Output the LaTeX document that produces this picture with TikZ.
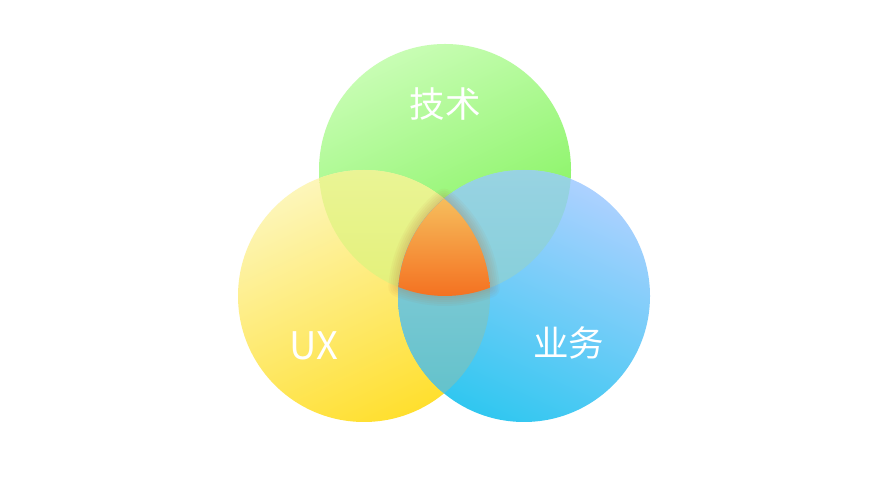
\documentclass[tikz,border=0pt]{standalone}
\usepackage{fontspec}
\setmainfont{Noto Sans CJK SC}
\definecolor{gA}{HTML}{C8FDB4}
\definecolor{gB}{HTML}{7DF256}
\definecolor{yA}{HTML}{FDF6BA}
\definecolor{yB}{HTML}{FFDF2E}
\definecolor{bA}{HTML}{ADD1FF}
\definecolor{bB}{HTML}{30C7F0}
\definecolor{gyA}{HTML}{EAF495}
\definecolor{gyB}{HTML}{DCEE5C}
\definecolor{gbA}{HTML}{98D3E2}
\definecolor{gbB}{HTML}{74CBD2}
\definecolor{ybA}{HTML}{92CEDD}
\definecolor{ybB}{HTML}{5EC1C9}
\definecolor{oA}{HTML}{F6BD5C}
\definecolor{oB}{HTML}{F46F1F}
\definecolor{halo}{HTML}{B86A38}
\tikzset{
  lab/.style={text=white, font=\fontsize{35.5}{40}\selectfont, inner sep=0pt},
  lablatin/.style={text=white, font=\fontsize{38}{44}\selectfont, inner sep=0pt},
  halostroke/.style={draw=halo, draw opacity=0.055, line join=round},
}
\begin{document}
\begin{tikzpicture}[x=1pt,y=1pt]
\useasboundingbox (0,0) rectangle (888,500);
\fill[white] (0,0) rectangle (888,500);
\coordinate (G) at (445,330);
\coordinate (Y) at (364,204);
\coordinate (B) at (524,204);
\coordinate (T) at (444,301.3);
% base circles
\shade[top color=gA, bottom color=gB, shading angle=25] (G) circle[radius=126pt];
\shade[top color=yA, bottom color=yB, shading angle=25] (Y) circle[radius=126pt];
\shade[top color=bA, bottom color=bB, shading angle=-25] (B) circle[radius=126pt];
% pairwise overlaps
\begin{scope}
  \clip (G) circle[radius=126pt];
  \shade[top color=gyA, bottom color=gyB] (Y) circle[radius=126pt];
\end{scope}
\begin{scope}
  \clip (G) circle[radius=126pt];
  \shade[top color=gbA, bottom color=gbB] (B) circle[radius=126pt];
\end{scope}
\begin{scope}
  \clip (Y) circle[radius=126pt];
  \shade[top color=ybA, bottom color=ybB] (B) circle[radius=126pt];
\end{scope}
% halo around centre
\begin{scope}[yshift=-4pt]
  \foreach \w in {20,16,12,8,4}{
    \path[halostroke, line width=\w pt] (T)
      arc[start angle=129.43, end angle=175.9, radius=126pt]
      arc[start angle=248.24, end angle=290.78, radius=126pt]
      arc[start angle=3.73, end angle=50.57, radius=126pt] -- cycle;
  }
\end{scope}
% centre
\shade[top color=oA, bottom color=oB] (T)
  arc[start angle=129.43, end angle=175.9, radius=126pt]
  arc[start angle=248.24, end angle=290.78, radius=126pt]
  arc[start angle=3.73, end angle=50.57, radius=126pt] -- cycle;
% labels
\node[lab] (tech) at (445,395.5) {技术};
\node[lablatin] (ux) at (313.5,154.3) {UX};
\node[lab] (biz) at (568.8,157.2) {业务};
\end{tikzpicture}
\end{document}
